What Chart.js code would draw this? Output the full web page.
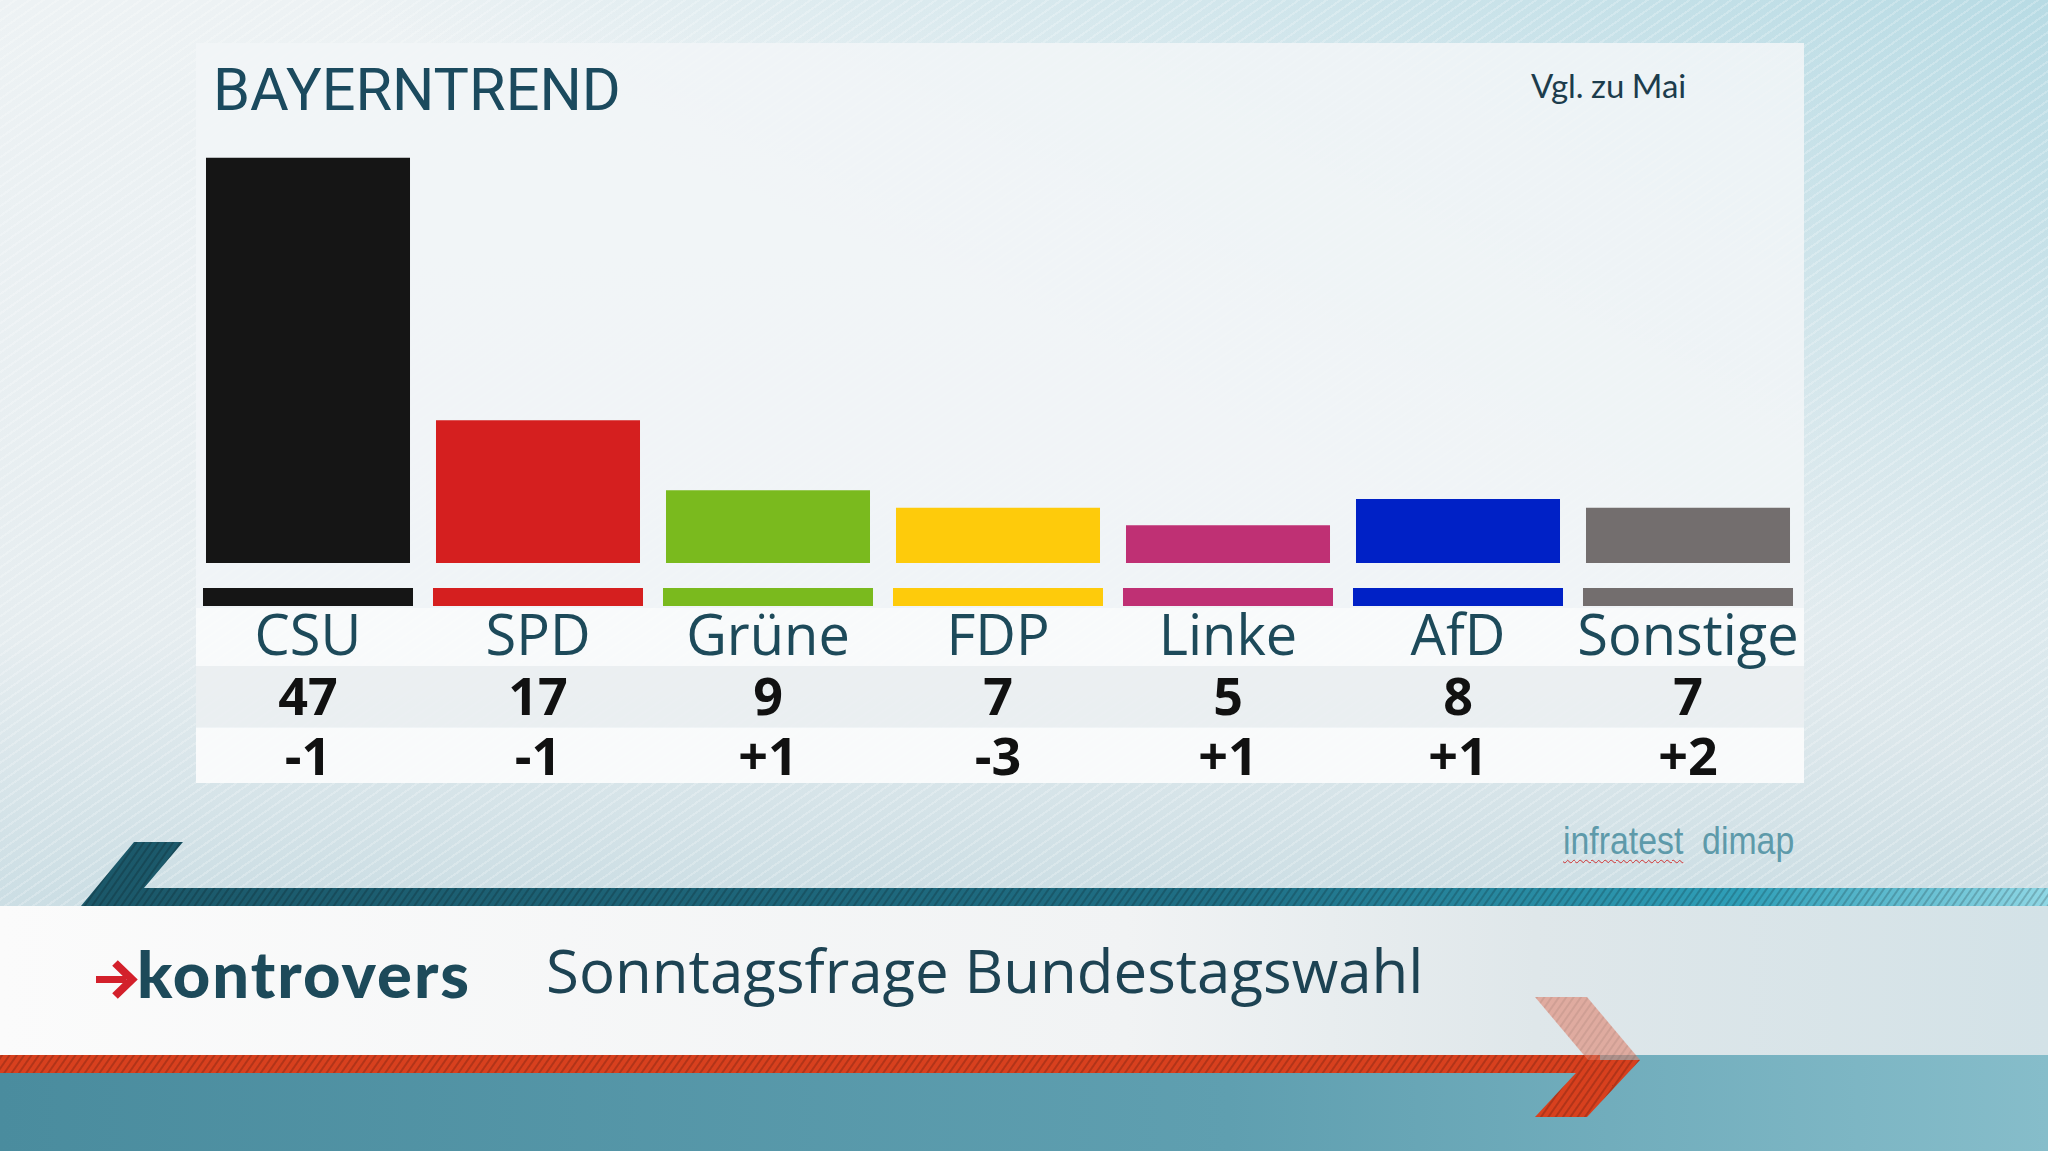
<!DOCTYPE html>
<html>
<head>
<meta charset="utf-8">
<script src="https://cdn.jsdelivr.net/npm/chart.js@4.4.1/dist/chart.umd.min.js"></script>
<style>
html, body { margin: 0; padding: 0; }
body {
  width: 2048px; height: 1151px; position: relative; overflow: hidden;
  font-family: "Open Sans", sans-serif;
  background:
    linear-gradient(205deg, rgba(140,200,215,0.55) 0%, rgba(140,200,215,0) 38%),
    linear-gradient(180deg, #edf2f4 0%, #e6edf0 55%, #ccdee4 78%, #c4dae0 100%);
}
.stripes {
  position: absolute; left: 0; top: 0; width: 2048px; height: 1151px;
  background: repeating-linear-gradient(145deg, rgba(255,255,255,0.22) 0 2px, rgba(255,255,255,0) 2px 8px);
}
#panel { position: absolute; left: 196px; top: 43px; width: 1608px; height: 740px; background: rgba(241,245,247,0.88); }
.row { position: absolute; left: 196px; width: 1608px; }
#title {
  position: absolute; left: 213px; top: 60px; font-family: Roboto; font-weight: 400;
  font-size: 60px; line-height: 1; color: #1b4a5e; transform: scaleX(0.99); transform-origin: left top;
  white-space: nowrap;
}
#vgl { position: absolute; left: 1531px; top: 69px; font-family: Lato; font-size: 33px; line-height: 1; color: #1c3c4c; white-space: nowrap; word-spacing: -1px; }
#source {
  position: absolute; left: 1563px; top: 822px; font-family: "Liberation Sans Narrow", "Liberation Sans"; font-size: 38px;
  line-height: 1; color: #5e9aaa; white-space: pre; transform: scaleX(0.89); transform-origin: left top;
}
#source span { text-decoration: underline wavy #d03030; text-decoration-thickness: 1px; text-underline-offset: 5px; }
#headline {
  position: absolute; left: 546px; top: 940px; font-size: 60px; line-height: 1; color: #1d4353;
  letter-spacing: 0px; white-space: nowrap;
}
#logo {
  position: absolute; left: 137px; top: 941px; font-family: Lato; font-weight: 900; font-size: 65px;
  line-height: 1; color: #1d4a5a; letter-spacing: 2px; white-space: nowrap;
}
#banner { position: absolute; left: 0; top: 0; }
#chartBox { position: absolute; left: 193px; top: 149px; width: 1610px; height: 640px; }
</style>
</head>
<body>
<div class="stripes"></div>
<div id="panel"></div>
<div class="row" style="top:608px;height:58px;background:rgba(255,255,255,0.55)"></div>
<div class="row" style="top:666px;height:61px;background:rgba(232,236,239,0.7)"></div>
<div class="row" style="top:728px;height:55px;background:rgba(255,255,255,0.6)"></div>
<div id="title">BAYERNTREND</div>
<div id="vgl">Vgl. zu Mai</div>
<div id="source"><span>infratest</span>  dimap</div>

<svg id="banner" width="2048" height="1151" viewBox="0 0 2048 1151">
  <defs>
    <linearGradient id="tealBand" x1="0" y1="0" x2="2048" y2="0" gradientUnits="userSpaceOnUse">
      <stop offset="0" stop-color="#1b5667"/>
      <stop offset="0.6" stop-color="#1f6f85"/>
      <stop offset="0.85" stop-color="#2f9fb8"/>
      <stop offset="1" stop-color="#8fd7e5"/>
    </linearGradient>
    <linearGradient id="whiteBand" x1="0" y1="0" x2="2048" y2="0" gradientUnits="userSpaceOnUse">
      <stop offset="0" stop-color="#fbfbfb"/>
      <stop offset="0.55" stop-color="#f1f3f4"/>
      <stop offset="0.75" stop-color="#dfe7ea"/>
      <stop offset="1" stop-color="#d3e2e7"/>
    </linearGradient>
    <linearGradient id="tealBottom" x1="0" y1="0" x2="2048" y2="0" gradientUnits="userSpaceOnUse">
      <stop offset="0" stop-color="#4a8c9e"/>
      <stop offset="0.6" stop-color="#5f9fb0"/>
      <stop offset="1" stop-color="#86bdca"/>
    </linearGradient>
    <pattern id="hatch" width="6" height="6" patternUnits="userSpaceOnUse" patternTransform="rotate(35)">
      <rect width="2" height="6" fill="rgba(0,0,0,0.18)"/>
    </pattern>
  </defs>
  <rect x="0" y="1055" width="2048" height="96" fill="url(#tealBottom)"/>
  <rect x="0" y="906" width="2048" height="149" fill="url(#whiteBand)"/>
  <polygon points="134,842 183,842 144,888 2048,888 2048,906 81,906" fill="url(#tealBand)"/>
  <polygon points="134,842 183,842 144,888 2048,888 2048,906 81,906" fill="url(#hatch)"/>
  <rect x="0" y="1055" width="1600" height="18" fill="#d8401e"/>
  <rect x="0" y="1055" width="1600" height="18" fill="url(#hatch)"/>
  <polygon points="1535,997 1587,997 1640,1060 1588,1060" fill="#e07a62" opacity="0.55"/>
  <polygon points="1535,997 1587,997 1640,1060 1588,1060" fill="url(#hatch)" opacity="0.4"/>
  <polygon points="1588,1060 1640,1060 1587,1117 1535,1117" fill="#d8401e"/>
  <polygon points="1588,1060 1640,1060 1587,1117 1535,1117" fill="url(#hatch)"/>
  <rect x="96" y="976" width="30" height="7" fill="#d3202b"/>
  <polyline points="115,963 132,979.5 115,996" fill="none" stroke="#d3202b" stroke-width="8"/>
</svg>
<div id="logo">kontrovers</div>
<div id="headline">Sonntagsfrage Bundestagswahl</div>

<div id="chartBox"><canvas id="chart" width="1610" height="640"></canvas></div>

<script>
const parties = ["CSU", "SPD", "Grüne", "FDP", "Linke", "AfD", "Sonstige"];
const shares = [47, 17, 9, 7, 5, 8, 7];
const changes = [-1, -1, 1, -3, 1, 1, 2];
const partyColors = ['#151515', '#d51f1f', '#7aba1e', '#fecb0b', '#bf3074', '#0021c6', '#736e6e'];

function signed(v) {
    return v > 0 ? `+${v}` : `${v}`;
}

// colour strips + the three text rows under the bars
const tableRows = {
    id: 'tableRows',
    afterDatasetsDraw(chart) {
        const ctx = chart.ctx;
        const xScale = chart.scales.x;
        const bottom = chart.chartArea.bottom;
        const meta = chart.getDatasetMeta(0);
        ctx.save();
        ctx.textAlign = 'center';
        ctx.textBaseline = 'alphabetic';
        parties.forEach((name, i) => {
            const cx = xScale.getPixelForValue(i);
            const w = meta.data[i].width + 6;
            ctx.fillStyle = partyColors[i];
            ctx.fillRect(cx - w / 2, bottom + 25, w, 18);

            ctx.fillStyle = '#1d4a5a';
            ctx.font = '56px "Open Sans"';
            ctx.fillText(name, cx, bottom + 92);

            ctx.fillStyle = '#111111';
            ctx.font = 'bold 52px "Open Sans"';
            ctx.fillText(String(shares[i]), cx, bottom + 152);
            ctx.fillText(signed(changes[i]), cx, bottom + 212);
        });
        ctx.restore();
    }
};

const ctx = document.getElementById('chart');
const myChart = new Chart(ctx, {
    type: 'bar',
    data: {
        labels: parties,
        datasets: [{
            data: shares,
            backgroundColor: partyColors,
            borderWidth: 0,
            categoryPercentage: 1,
            barPercentage: 0.887
        }]
    },
    options: {
        responsive: false,
        animation: false,
        layout: {
            padding: { top: 0, bottom: 226, left: 0, right: 0 }
        },
        scales: {
            x: { display: false },
            y: { display: false, min: 0.7, max: 48 }
        },
        plugins: {
            legend: { display: false },
            tooltip: { enabled: false }
        }
    },
    plugins: [tableRows]
});
</script>
</body>
</html>
